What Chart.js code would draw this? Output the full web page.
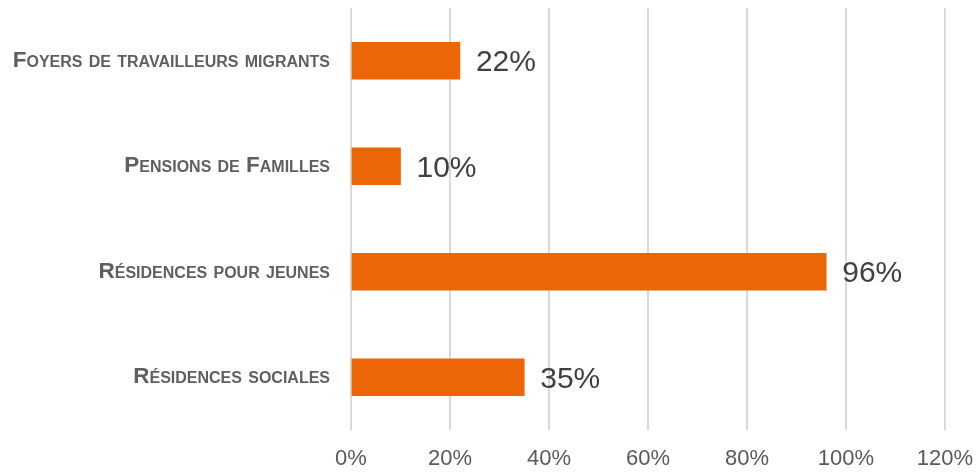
<!DOCTYPE html>
<html lang="fr">
<head>
<meta charset="UTF-8">
<title>Taux par type de résidence</title>
<script src="https://cdn.jsdelivr.net/npm/chart.js"></script>
<style>
  html, body { margin: 0; padding: 0; background: #ffffff; }
  #wrap { width: 978px; height: 472px; position: relative; }
</style>
</head>
<body>
<div id="wrap"><canvas id="chart"></canvas></div>
<script>
// Data
const categories = [
  'Foyers de travailleurs migrants',
  'Pensions de Familles',
  'Résidences pour jeunes',
  'Résidences sociales'
];
const shares = [0.22, 0.10, 0.96, 0.35];
const xTicks = [0, 0.2, 0.4, 0.6, 0.8, 1.0, 1.2];

const ORANGE = '#EC6608';
const FONT = '"Liberation Sans", Arial, sans-serif';

const pct = v => Math.round(v * 100) + '%';

// value labels at the end of each bar
const barLabels = {
  id: 'barLabels',
  afterDatasetsDraw(chart) {
    const ctx = chart.ctx;
    const meta = chart.getDatasetMeta(0);
    ctx.save();
    ctx.font = '30px ' + FONT;
    ctx.fillStyle = '#404040';
    ctx.textAlign = 'left';
    ctx.textBaseline = 'middle';
    meta.data.forEach((bar, i) => {
      ctx.fillText(pct(shares[i]), bar.x + 16, bar.y + 2);
    });
    ctx.restore();
  }
};

new Chart(document.getElementById('chart'), {
  type: 'bar',
  data: {
    labels: categories,
    datasets: [{
      data: shares,
      backgroundColor: ORANGE,
      borderWidth: 0,
      barThickness: 37
    }]
  },
  options: {
    indexAxis: 'y',
    responsive: true,
    maintainAspectRatio: false,
    animation: false,
    layout: { padding: { top: 8, right: 33, left: 0, bottom: 0 } },
    plugins: {
      legend: { display: false },
      tooltip: { enabled: false }
    },
    scales: {
      x: {
        min: 0,
        max: 1.2,
        afterBuildTicks: axis => { axis.ticks = xTicks.map(v => ({ value: v })); },
        afterFit: axis => {
          axis.height = 42;
          axis.paddingLeft = 0;
          axis.paddingRight = 0;
        },
        border: { display: false },
        grid: { color: '#D9D9D9', lineWidth: 2, drawTicks: false },
        ticks: {
          padding: 16,
          color: '#595959',
          font: { family: FONT, size: 22 },
          callback: v => pct(v)
        }
      },
      y: {
        afterFit: axis => {
          axis.width = 351;
          axis.paddingTop = 0;
          axis.paddingBottom = 0;
        },
        border: { display: false },
        grid: { display: false, drawTicks: false },
        ticks: {
          padding: 21,
          color: '#5f5f5f',
          font: { family: FONT, size: 22.5, weight: 'small-caps bold' }
        }
      }
    }
  },
  plugins: [barLabels]
});
</script>
</body>
</html>
